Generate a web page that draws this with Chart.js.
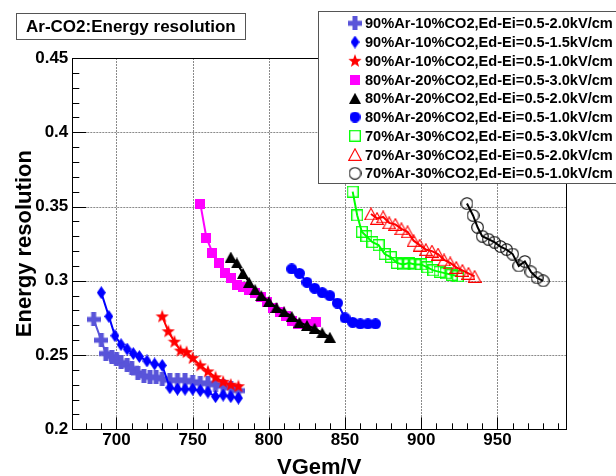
<!DOCTYPE html>
<html><head><meta charset="utf-8">
<script src="https://cdn.jsdelivr.net/npm/chart.js@4.4.0/dist/chart.umd.min.js"></script>
<style>html,body{margin:0;padding:0;background:#fff;}</style>
</head><body>
<canvas id="c" width="616" height="476"></canvas>
<script>
const xTicks=[700,750,800,850,900,950];
const yTicks=[0.2,0.25,0.3,0.35,0.4,0.45];
const yTickLabels=['0.2','0.25','0.3','0.35','0.4','0.45'];
const chartTitle='Ar-CO2:Energy resolution';
const xTitle='VGem/V';
const yTitle='Energy resolution';
const names=[
 '90%Ar-10%CO2,Ed-Ei=0.5-2.0kV/cm',
 '90%Ar-10%CO2,Ed-Ei=0.5-1.5kV/cm',
 '90%Ar-10%CO2,Ed-Ei=0.5-1.0kV/cm',
 '80%Ar-20%CO2,Ed-Ei=0.5-3.0kV/cm',
 '80%Ar-20%CO2,Ed-Ei=0.5-2.0kV/cm',
 '80%Ar-20%CO2,Ed-Ei=0.5-1.0kV/cm',
 '70%Ar-30%CO2,Ed-Ei=0.5-3.0kV/cm',
 '70%Ar-30%CO2,Ed-Ei=0.5-2.0kV/cm',
 '70%Ar-30%CO2,Ed-Ei=0.5-1.0kV/cm'];
const v1=[685,690,693,697,700,703,707,710,714,718,722,726,730,735,740,745,750,755,760,765,770,775,780];
const r1=[0.274,0.260,0.251,0.249,0.247,0.245,0.243,0.241,0.238,0.236,0.235,0.235,0.234,0.233,0.233,0.233,0.232,0.231,0.231,0.230,0.229,0.228,0.226];
const v2=[690,695,699,703,707,711,715,720,725,730,735,740,745,750,755,760,765,770,775,780];
const r2=[0.292,0.276,0.263,0.257,0.254,0.251,0.249,0.246,0.244,0.243,0.228,0.227,0.227,0.227,0.226,0.225,0.222,0.223,0.222,0.221];
const v3=[730,734,738,742,746,750,755,760,765,770,775,780];
const r3=[0.276,0.266,0.259,0.253,0.252,0.248,0.243,0.239,0.235,0.232,0.230,0.229];
const v4=[755,759,763,767,771,775,779,783,787,791,795,799,803,807,811,815,819,823,827,831];
const r4=[0.352,0.329,0.319,0.312,0.305,0.302,0.297,0.296,0.294,0.292,0.289,0.286,0.282,0.279,0.276,0.273,0.271,0.271,0.271,0.272];
const v5=[775,779,783,787,791,795,800,805,810,815,820,825,830,835,840];
const r5=[0.316,0.312,0.305,0.299,0.294,0.290,0.286,0.282,0.279,0.276,0.272,0.270,0.268,0.265,0.262];
const v6=[815,820,825,830,835,840,845,850,855,860,865,870];
const r6=[0.308,0.305,0.299,0.295,0.292,0.290,0.285,0.275,0.272,0.271,0.271,0.271];
const v7=[855,858,861,864,868,872,876,880,884,888,892,896,900,904,908,912,916,920,924];
const r7=[0.360,0.344,0.333,0.330,0.326,0.324,0.318,0.316,0.312,0.311,0.312,0.311,0.311,0.309,0.307,0.306,0.305,0.304,0.303];
const v8=[867,871,875,879,883,887,891,895,899,903,907,911,915,919,923,927,931,935];
const r8=[0.345,0.342,0.343,0.339,0.338,0.335,0.333,0.327,0.324,0.321,0.320,0.318,0.314,0.312,0.309,0.307,0.305,0.303];
const v9=[930,934,937,940,944,948,952,956,960,964,968,972,976,980];
const r9=[0.352,0.344,0.336,0.330,0.328,0.326,0.323,0.321,0.318,0.310,0.313,0.306,0.302,0.300];

const colors=['#5954d9','#0000ff','#ff0000','#ff00ff','#000000','#0000ff','#00ff00','#ff0000','#000000'];

function mk(w,h,fn){const c=document.createElement('canvas');c.width=w;c.height=h;const g=c.getContext('2d');fn(g,w,h);return c;}
const markers=[
 mk(14,14,(g)=>{g.fillStyle=colors[0];g.fillRect(0,4.5,14,5);g.fillRect(4.5,0,5,14);}),
 mk(9,13,(g)=>{g.fillStyle=colors[1];g.beginPath();g.moveTo(4.5,0);g.lineTo(9,6.5);g.lineTo(4.5,13);g.lineTo(0,6.5);g.closePath();g.fill();}),
 mk(14,14,(g)=>{g.fillStyle=colors[2];g.beginPath();for(let i=0;i<10;i++){const r=i%2?2.9:7;const a=-Math.PI/2+i*Math.PI/5;g.lineTo(7+r*Math.cos(a),7.3+r*Math.sin(a));}g.closePath();g.fill();}),
 mk(10,10,(g)=>{g.fillStyle=colors[3];g.fillRect(0,0,10,10);}),
 mk(12,11,(g)=>{g.fillStyle=colors[4];g.beginPath();g.moveTo(6,0);g.lineTo(12,11);g.lineTo(0,11);g.closePath();g.fill();}),
 mk(11,11,(g)=>{g.fillStyle=colors[5];g.beginPath();g.arc(5.5,5.5,5.5,0,Math.PI*2);g.fill();}),
 mk(12,12,(g)=>{g.strokeStyle=colors[6];g.lineWidth=1.3;g.strokeRect(0.7,0.7,10.6,10.6);}),
 mk(14,13,(g)=>{g.strokeStyle=colors[7];g.lineWidth=1.1;g.beginPath();g.moveTo(7,0.8);g.lineTo(13.3,12.4);g.lineTo(0.7,12.4);g.closePath();g.stroke();}),
 mk(13,13,(g)=>{g.strokeStyle=colors[8];g.lineWidth=1.1;g.beginPath();g.arc(6.5,6.5,5.8,0,Math.PI*2);g.stroke();})
];
const vs=[v1,v2,v3,v4,v5,v6,v7,v8,v9], rs=[r1,r2,r3,r4,r5,r6,r7,r8,r9];
const datasets=vs.map((v,i)=>({
 label:names[i],
 data:v.map((x,j)=>({x:x,y:rs[i][j]})),
 showLine:true,
 borderColor:colors[i],
 borderWidth:2,
 pointStyle:markers[i],
 pointRadius:6,
 order:9-i
}));

const FONT='"Liberation Sans", Arial, Helvetica, sans-serif';
const deco={
 id:'deco',
 beforeDatasetsDraw(chart){
  const {ctx,chartArea:a,scales:{x,y}}=chart;
  ctx.save();
  ctx.strokeStyle='#8a8a8a';ctx.lineWidth=1;ctx.setLineDash([2,1]);
  ctx.beginPath();
  xTicks.forEach(v=>{const px=Math.round(x.getPixelForValue(v))+0.5;ctx.moveTo(px,a.top);ctx.lineTo(px,a.bottom);});
  yTicks.forEach(v=>{const py=Math.round(y.getPixelForValue(v))+0.5;ctx.moveTo(a.left,py);ctx.lineTo(a.right,py);});
  ctx.stroke();
  ctx.restore();
 },
 afterDraw(chart){
  const {ctx,chartArea:a,scales:{x,y}}=chart;
  ctx.save();
  ctx.strokeStyle='#000';ctx.lineWidth=1;
  ctx.beginPath();
  for(let v=680;v<=990;v+=10){
   const px=Math.round(x.getPixelForValue(v))+0.5;
   const L=(v%50===0)?12:6;
   ctx.moveTo(px,a.bottom);ctx.lineTo(px,a.bottom-L);
  }
  for(let k=21;k<=44;k++){
   const py=Math.round(y.getPixelForValue(k/100))+0.5;
   const L=(k%5===0)?14:7;
   ctx.moveTo(a.left,py);ctx.lineTo(a.left+L,py);
  }
  ctx.stroke();
  ctx.strokeRect(Math.round(a.left)+0.5,Math.round(a.top)+0.5,Math.round(a.right-a.left),Math.round(a.bottom-a.top));
  // axis titles
  ctx.fillStyle='#000';
  ctx.font='bold 22px '+FONT;
  ctx.textAlign='center';ctx.textBaseline='alphabetic';
  ctx.fillText(xTitle,(a.left+a.right)/2,474);
  ctx.save();ctx.translate(31,(a.top+a.bottom)/2);ctx.rotate(-Math.PI/2);
  ctx.fillText(yTitle,0,0);ctx.restore();
  // title box
  ctx.fillStyle='#fff';ctx.fillRect(16,13,229,26);
  ctx.strokeStyle='#555';ctx.strokeRect(16.5,13.5,229,26);
  ctx.fillStyle='#000';ctx.font='bold 17px '+FONT;ctx.textAlign='left';ctx.textBaseline='middle';
  ctx.fillText(chartTitle,26,27);
  // legend box
  ctx.fillStyle='#fff';ctx.fillRect(318,11,300,172);
  ctx.strokeStyle='#555';ctx.strokeRect(318.5,11.5,300,172);
  ctx.font='bold 14.6px '+FONT;ctx.fillStyle='#000';
  chart.data.datasets.forEach((d,i)=>{
   const cy=23.3+i*18.75;
   const m=markers[i];
   ctx.drawImage(m,355-m.width/2,cy-m.height/2);
   ctx.fillText(d.label,365,cy+1);
  });
  ctx.restore();
 }
};

new Chart(document.getElementById('c'),{
 type:'scatter',
 data:{datasets},
 options:{
  responsive:false,animation:false,
  layout:{padding:{top:58,right:50,left:0,bottom:0}},
  plugins:{legend:{display:false},title:{display:false},tooltip:{enabled:false}},
  elements:{line:{tension:0}},
  scales:{
   x:{type:'linear',min:671,max:995,
    afterBuildTicks:s=>{s.ticks=xTicks.map(v=>({value:v}));},
    afterFit:s=>{s.height=46.7;},
    grid:{display:false,drawTicks:false},
    border:{display:false},
    ticks:{color:'#000',font:{family:FONT,weight:'bold',size:17},padding:1,maxRotation:0,autoSkip:false,callback:v=>String(v)}
   },
   y:{type:'linear',min:0.2,max:0.45,
    afterBuildTicks:s=>{s.ticks=yTicks.map(v=>({value:v}));},
    afterFit:s=>{s.width=72.3;},
    grid:{display:false,drawTicks:false},
    border:{display:false},
    ticks:{color:'#000',font:{family:FONT,weight:'bold',size:17},padding:4,autoSkip:false,
     callback:(v)=>{const i=yTicks.findIndex(t=>Math.abs(t-v)<1e-9);return i>=0?yTickLabels[i]:'';}}
   }
  }
 },
 plugins:[deco]
});
</script>
</body></html>
